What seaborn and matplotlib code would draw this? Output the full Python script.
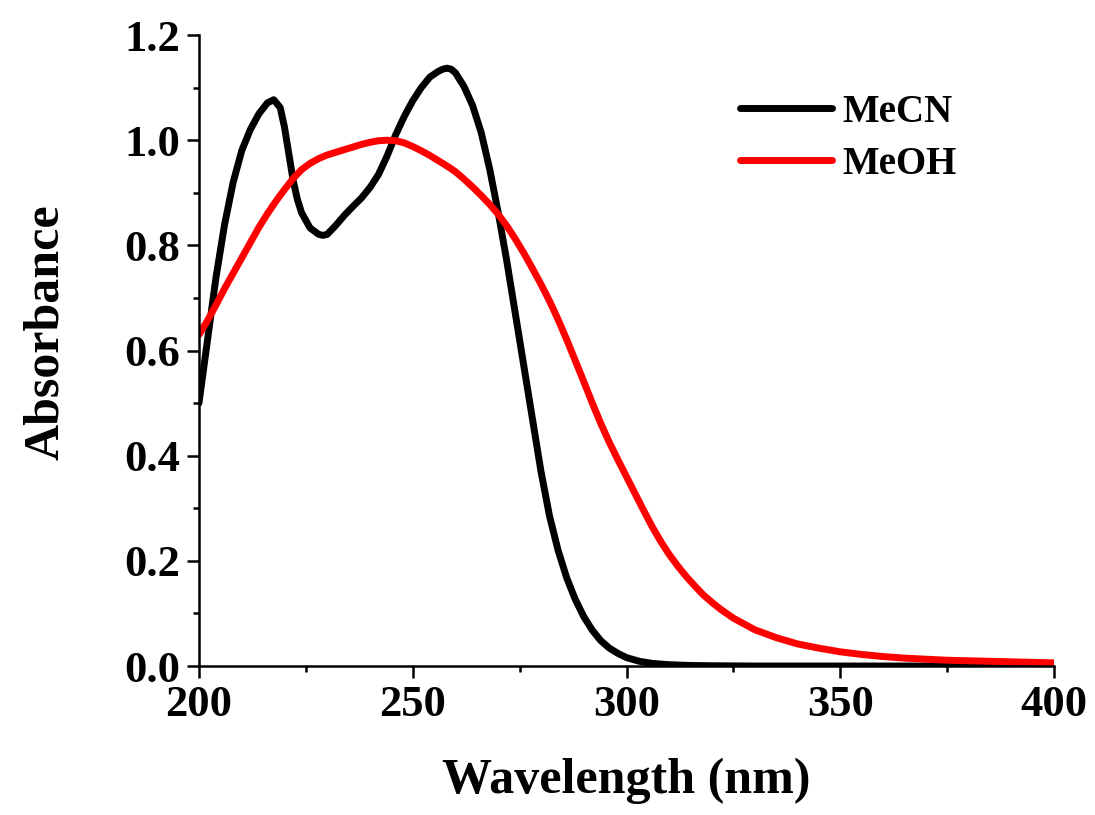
import numpy as np
import pandas as pd
import matplotlib
matplotlib.use("Agg")
import matplotlib.pyplot as plt
import seaborn as sns
from matplotlib.ticker import MultipleLocator

# ---- data ----
mecn_wl = [200, 202, 204, 206, 208, 210, 212, 214, 216, 217.5, 219, 220, 221, 222, 223, 224,
           226, 228, 229, 230, 232, 234, 236, 238, 240, 242, 244, 246, 248, 250, 252, 254,
           256, 257, 258, 259, 260, 262, 264, 266, 268, 270, 272, 274, 276, 278, 280, 282,
           284, 286, 288, 290, 292, 294, 296, 298, 300, 303, 306, 310, 315, 320, 330, 350,
           375, 400]
mecn_abs = [0.50, 0.62, 0.74, 0.84, 0.92, 0.98, 1.02, 1.05, 1.071, 1.077, 1.062, 1.025, 0.975,
            0.925, 0.888, 0.862, 0.833, 0.821, 0.819, 0.821, 0.838, 0.857, 0.874, 0.89, 0.91,
            0.935, 0.97, 1.01, 1.045, 1.075, 1.10, 1.12, 1.131, 1.135, 1.137, 1.135, 1.128,
            1.102, 1.066, 1.015, 0.945, 0.862, 0.77, 0.67, 0.57, 0.47, 0.37, 0.285, 0.22,
            0.168, 0.127, 0.094, 0.068, 0.048, 0.034, 0.024, 0.016, 0.009, 0.005, 0.0025,
            0.001, 0.0005, 0.0, 0.0, 0.0, 0.0]

meoh_wl = [200, 202, 204, 206, 208, 210, 212, 214, 216, 218, 220, 222, 224, 226, 228, 230,
           232, 234, 236, 238, 240, 242, 244, 246, 248, 250, 252, 254, 256, 258, 260, 262,
           264, 266, 268, 270, 272, 274, 276, 278, 280, 282, 284, 286, 288, 290, 292, 294,
           296, 298, 300, 302, 304, 306, 308, 310, 312, 314, 316, 318, 320, 322, 325, 330,
           335, 340, 345, 350, 355, 360, 365, 370, 375, 380, 385, 390, 395, 400]
meoh_abs = [0.63, 0.657, 0.687, 0.718, 0.747, 0.776, 0.805, 0.834, 0.86, 0.884, 0.906, 0.927,
            0.944, 0.956, 0.965, 0.972, 0.977, 0.982, 0.987, 0.992, 0.996, 0.999, 1.0, 0.999,
            0.995, 0.988, 0.98, 0.971, 0.961, 0.951, 0.94, 0.926, 0.911, 0.895, 0.878, 0.859,
            0.837, 0.812, 0.785, 0.756, 0.726, 0.694, 0.659, 0.621, 0.581, 0.541, 0.50, 0.461,
            0.425, 0.392, 0.36, 0.328, 0.296, 0.265, 0.237, 0.212, 0.19, 0.17, 0.152, 0.135,
            0.121, 0.108, 0.091, 0.069, 0.054, 0.042, 0.034, 0.027, 0.022, 0.018, 0.015, 0.013,
            0.011, 0.01, 0.009, 0.008, 0.007, 0.006]

series_names = ["MeCN", "MeOH"]
series_colors = {"MeCN": "#000000", "MeOH": "#ff0000"}
x_ticks = [200, 250, 300, 350, 400]
y_ticks = [0.0, 0.2, 0.4, 0.6, 0.8, 1.0, 1.2]

df = pd.concat([
    pd.DataFrame({"Wavelength": mecn_wl, "Absorbance": mecn_abs, "Solvent": "MeCN"}),
    pd.DataFrame({"Wavelength": meoh_wl, "Absorbance": meoh_abs, "Solvent": "MeOH"}),
], ignore_index=True)

sns.set_style("ticks")
plt.rcParams["font.family"] = ["Liberation Serif", "DejaVu Serif"]
plt.rcParams["font.weight"] = "bold"
for k in ["text.color", "axes.labelcolor", "xtick.color", "ytick.color", "axes.edgecolor"]:
    plt.rcParams[k] = "black"

fig = plt.figure(figsize=(10.95, 8.15), dpi=100)
ax = fig.add_axes([0.1817, 0.1828, 0.7809, 0.7742])

sns.lineplot(data=df, x="Wavelength", y="Absorbance", hue="Solvent",
             hue_order=series_names, palette=series_colors, linewidth=5.0,
             sort=False, estimator=None, ax=ax, legend=True)

ax.set_xlim(200, 400)
ax.set_ylim(0, 1.2)
ax.set_xticks(x_ticks)
ax.set_xticklabels([str(v) for v in x_ticks])
ax.set_yticks(y_ticks)
ax.set_yticklabels([f"{v:.1f}" for v in y_ticks])
ax.xaxis.set_minor_locator(MultipleLocator(25))
ax.yaxis.set_minor_locator(MultipleLocator(0.1))

ax.tick_params(which="major", direction="out", length=8.5, width=1.8,
               labelsize=32, pad=5, color="black", labelcolor="black")
ax.tick_params(which="minor", direction="out", length=4.5, width=1.8, color="black")
for lab in ax.get_xticklabels() + ax.get_yticklabels():
    lab.set_fontweight("bold")

for side in ["top", "right"]:
    ax.spines[side].set_visible(False)
for side in ["left", "bottom"]:
    ax.spines[side].set_linewidth(1.8)
    ax.spines[side].set_color("black")

ax.set_xlabel("Wavelength (nm)", fontsize=36, fontweight="bold", labelpad=24)
ax.set_ylabel("Absorbance", fontsize=36, fontweight="bold")
ax.yaxis.set_label_coords(-0.152, 0.529)

leg = ax.legend(loc="upper left", bbox_to_anchor=(0.614, 0.932), frameon=False,
                fontsize=28, handlelength=2.37, handletextpad=0.28,
                labelspacing=0.4, borderaxespad=0)
for line in leg.get_lines():
    line.set_linewidth(5.0)
    line.set_solid_capstyle("round")
for t in leg.get_texts():
    t.set_fontweight("bold")
    t.set_color("black")

fig.savefig("out.png", dpi=100)
